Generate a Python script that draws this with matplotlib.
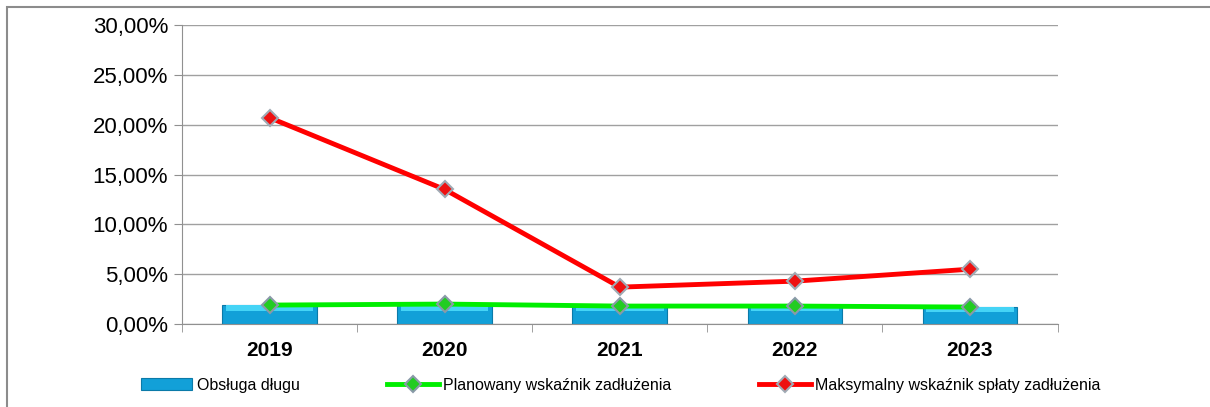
import numpy as np
import matplotlib.pyplot as plt
from matplotlib.ticker import FuncFormatter
from matplotlib.patches import Rectangle

plt.rcParams['font.family'] = ['Liberation Sans', 'DejaVu Sans']

# Data (percent)
years = ['2019', '2020', '2021', '2022', '2023']
obsluga = [1.9, 1.9, 1.8, 1.8, 1.7]
planowany = [1.9, 2.0, 1.8, 1.8, 1.7]
maksymalny = [20.7, 13.5, 3.7, 4.3, 5.5]

fig = plt.figure(figsize=(12.1, 4.07), dpi=100)
ax = fig.add_axes([0.1504, 0.2039, 0.7236, 0.7347])

x = np.arange(len(years))

# bars with a light top edge to imitate the bevel
bars = ax.bar(x, obsluga, width=0.54, color='#12a0d8', edgecolor='#0b7aa8',
              linewidth=0.8, zorder=2, label='Obsługa długu')
ax.bar(x, [v * 0.3 for v in obsluga], bottom=[v * 0.7 for v in obsluga],
       width=0.5, color='#45d4f6', linewidth=0, zorder=2)

l1, = ax.plot(x, planowany, color='#00ee00', lw=3.5, marker='D', ms=8,
              mfc='#22cc22', mec='#8a9aa8', mew=1.5, zorder=3,
              label='Planowany wskaźnik zadłużenia')
l2, = ax.plot(x, maksymalny, color='#ff0000', lw=3.5, marker='D', ms=8,
              mfc='#ee1111', mec='#a0aab4', mew=1.5, zorder=4,
              label='Maksymalny wskaźnik spłaty zadłużenia')

ax.set_xlim(-0.5, len(years) - 0.5)
ax.set_ylim(0, 30)
ax.set_yticks(np.arange(0, 31, 5))
ax.yaxis.set_major_formatter(FuncFormatter(lambda v, p: f'{v:.2f}%'.replace('.', ',')))
ax.grid(axis='y', color='#a0a0a0', lw=1, zorder=0)
ax.set_axisbelow(True)

ax.set_xticks(x)
ax.set_xticklabels(years, fontsize=15, fontweight='bold')
ax.set_xticks(np.arange(-0.5, len(years), 1), minor=True)
ax.tick_params(axis='x', which='major', length=0, pad=12)
ax.tick_params(axis='x', which='minor', length=6, color='#909090')
ax.tick_params(axis='y', labelsize=16, length=6, color='#909090', pad=4)

for s in ['top', 'right']:
    ax.spines[s].set_visible(False)
for s in ['left', 'bottom']:
    ax.spines[s].set_color('#909090')

fig.legend([bars, l1, l2], [bars.get_label(), l1.get_label(), l2.get_label()],
           loc='lower center', bbox_to_anchor=(0.513, 0.0), ncol=3,
           frameon=False, fontsize=11.5, columnspacing=5.5,
           handlelength=3.2, handletextpad=0.3)

# outer chart border
fig.patches.append(Rectangle((0.006, -0.01), 1.1, 0.993, transform=fig.transFigure,
                             fill=False, edgecolor='#8c8c8c', lw=1.5))

fig.savefig('out.png', dpi=100)
